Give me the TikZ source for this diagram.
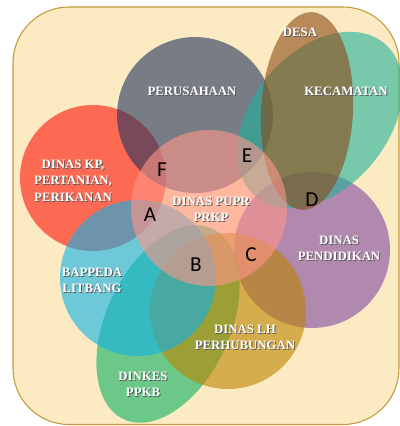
\documentclass[tikz,border=0pt]{standalone}
\usepackage{fontspec}
\setmainfont{Liberation Serif}
\newfontfamily\letterfont{Carlito}

% set colours (drawn at 60% opacity over the panel)
\definecolor{kpred}{RGB}{255,20,12}
\definecolor{corpgray}{RGB}{32,52,93}
\definecolor{puprpink}{RGB}{255,150,137}
\definecolor{bappcyan}{RGB}{15,177,230}
\definecolor{dinkgreen}{RGB}{13,178,100}
\definecolor{lhgold}{RGB}{188,132,0}
\definecolor{eduviolet}{RGB}{127,72,163}
\definecolor{camatteal}{RGB}{33,178,158}
\definecolor{desabrown}{RGB}{140,73,20}
\definecolor{panel}{RGB}{252,235,194}
\definecolor{panelrim}{RGB}{196,154,60}

% white caption text with a dark drop shadow
\newcommand\shd[1]{\leavevmode\rlap{\kern0.75pt\raisebox{-0.75pt}{\textcolor{black!65}{#1}}}#1}

\begin{document}
\begin{tikzpicture}[x=0.75pt,y=0.75pt,
  setshape/.style={fill opacity=0.6, draw=none},
  setname/.style={font=\fontsize{9.6}{12.3}\selectfont\bfseries, text=white,
                  align=center, inner sep=0pt},
  zone/.style={font=\letterfont\fontsize{16}{16}\selectfont, text=black, inner sep=0pt}]

\useasboundingbox (0,0) rectangle (400,426);

% panel
\draw[panelrim, fill=panel, line width=0.8pt, rounded corners=42pt] (13,1.5) rectangle (399,419);

% overlapping sets, back to front
\fill[setshape, kpred]     (93,248)  circle [radius=73];
\fill[setshape, corpgray]  (195,311) circle [radius=78];
\fill[setshape, eduviolet] (312,176) circle [radius=78];
\fill[setshape, camatteal] (320,306) ellipse [x radius=100, y radius=68, rotate=50];
\fill[setshape, desabrown] (307,315) ellipse [x radius=46, y radius=99, rotate=-3];
\fill[setshape, dinkgreen] (168,102) ellipse [x radius=105, y radius=62, rotate=65];
\fill[setshape, lhgold]    (228,115) circle [radius=78];
\fill[setshape, bappcyan]  (138,148) circle [radius=78];
\fill[setshape, puprpink]  (209,218) circle [radius=78];

% set names
\node[setname] (corp) at (192,334) {\shd{PERUSAHAAN}};
\node[setname] (camat) at (346,334) {\shd{KECAMATAN}};
\node[setname] (desa) at (300,393) {\shd{DESA}};
\node[setname] (kp) at (73,245) {\shd{DINAS KP,}\\\shd{PERTANIAN,}\\\shd{PERIKANAN}};
\node[setname] (pupr) at (211,216) {\shd{DINAS PUPR}\\\shd{PRKP}};
\node[setname] (bapp) at (92,145) {\shd{BAPPEDA}\\\shd{LITBANG}};
\node[setname] (edu) at (339,177) {\shd{DINAS}\\\shd{PENDIDIKAN}};
\node[setname] (lh) at (245,88) {\shd{DINAS LH}\\\shd{PERHUBUNGAN}};
\node[setname] (dinkes) at (143,41) {\shd{DINKES}\\\shd{PPKB}};

% intersection letters
\node[zone] (zf) at (162,256) {F};
\node[zone] (ze) at (247,270) {E};
\node[zone] (za) at (150,211) {A};
\node[zone] (zb) at (196,161) {B};
\node[zone] (zc) at (251,171) {C};
\node[zone] (zd) at (312,226) {D};
\end{tikzpicture}
\end{document}
